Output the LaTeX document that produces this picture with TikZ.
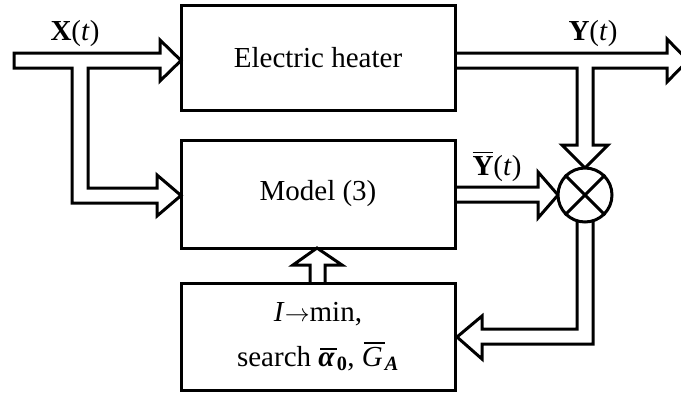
\documentclass[tikz,border=0pt]{standalone}
\usepackage{amsmath}
\usepackage{fontspec}
\setmainfont{Liberation Serif}
\usetikzlibrary{calc}
\newcommand\topbar[2][0pt]{\setbox0\hbox{#2}\leavevmode\vbox{\offinterlineskip\moveright #1\hbox{\vrule width \wd0 height 1.8pt depth 0pt}\kern 2.6pt \box0}}
\begin{document}
\begin{tikzpicture}[x=1pt,y=-1pt, line width=3pt, line join=miter,
  blockbox/.style={draw, rectangle, minimum width=274pt, inner sep=0pt, align=center, font=\fontsize{29}{45}\selectfont},
  hollow/.style={draw, line width=3pt},
  lbl/.style={font=\fontsize{29}{34}\selectfont, inner sep=0pt, anchor=base}]
\useasboundingbox (0,0) rectangle (681,394);
\clip (0,0) rectangle (681,394);
% blocks
\node[blockbox, minimum height=105pt] (heater) at (318,57.5) {Electric heater};
\node[blockbox, minimum height=108pt] (model) at (318,194) {Model (3)};
\node[blockbox, minimum height=107pt] (search) at (318,336.5)
  {\textit{I}$\rightarrow$min,\\search \topbar[2pt]{\textit{\textbf{α}}}$_{\textbf{0}}$, \topbar[2pt]{\textit{G}}$_{\textit{\textbf{A}}}$};
% input X(t) with branch to the model
\draw[hollow] (14,53) -- (160,53) -- (160,40) -- (181,60.5) -- (160,81) -- (160,68)
  -- (88,68) -- (88,188) -- (157,188) -- (157,175) -- (181,195.5) -- (157,216) -- (157,203)
  -- (72,203) -- (72,68) -- (14,68) -- cycle;
% output Y(t) with branch to the comparator
\draw[hollow] (455,53) -- (667,53) -- (667,39) -- (688,60.5) -- (667,82) -- (667,68)
  -- (593,68) -- (593,145) -- (608,145) -- (585,168) -- (562,145) -- (577,145) -- (577,68) -- (455,68);
% model output Ybar(t)
\draw[hollow] (455,187) -- (538,187) -- (538,172) -- (558,195) -- (538,218) -- (538,202) -- (455,202);
% comparator to search block
\draw[hollow] (577,205) -- (577,329) -- (482,329) -- (482,316) -- (457,337) -- (482,359) -- (482,344)
  -- (593,344) -- (593,205);
% search block to model
\draw[hollow] (310,283) -- (310,265) -- (293,265) -- (317,248) -- (342,265) -- (325,265) -- (325,283);
% comparator
\node[circle, draw, fill=white, minimum size=54pt, inner sep=0pt] (sum) at (585,195) {};
\draw (sum.45) -- (sum.225) (sum.135) -- (sum.-45);
% labels
\node[lbl] (xlab) at (75,40) {\textbf{X}(\textit{t})};
\node[lbl] (ylab) at (593,40) {\textbf{Y}(\textit{t})};
\node[lbl] (yblab) at (497,175) {\topbar{\textbf{Y}}(\textit{t})};
\end{tikzpicture}
\end{document}
